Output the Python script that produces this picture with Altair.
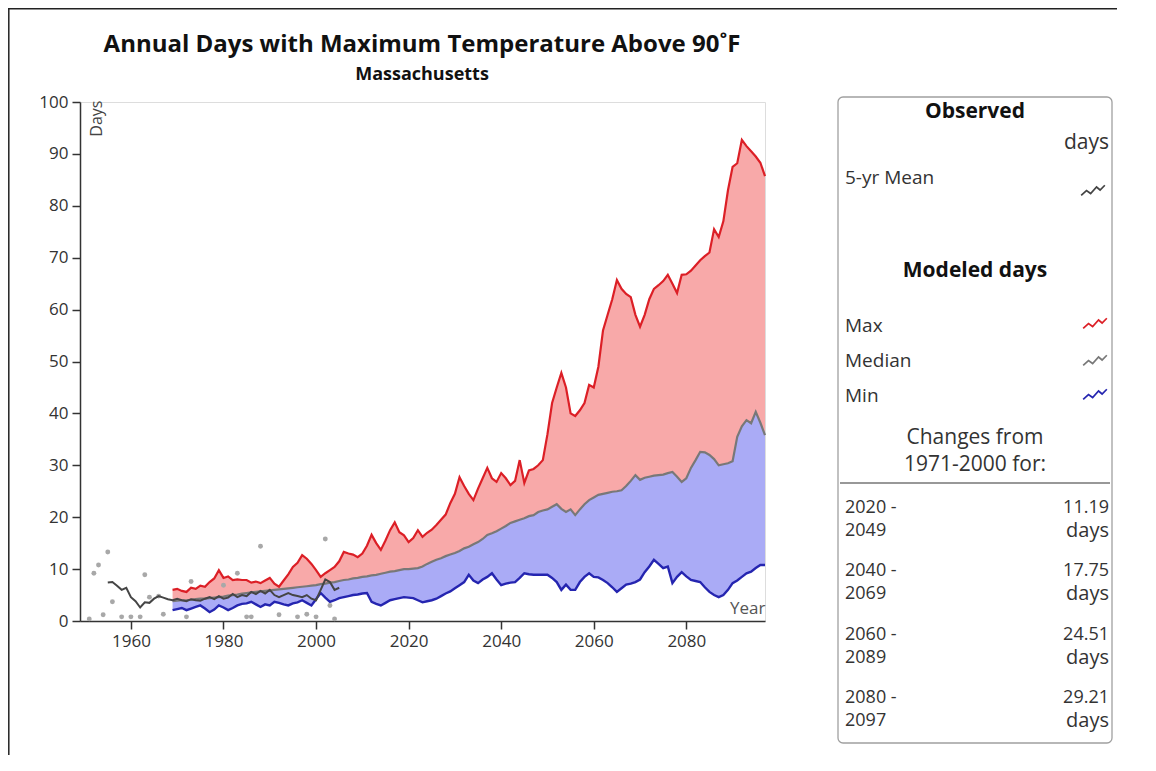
import altair as alt
import pandas as pd

FONT = "Open Sans"

# ---------------- data ----------------
model_years = list(range(1969, 2098))

max_days = [
    6.0, 6.2, 5.8, 5.6, 6.4, 6.2, 6.8, 6.6, 7.5, 8.2,
    9.8, 8.3, 8.6, 7.9, 8.0, 7.9, 7.9, 7.4, 7.6, 7.3,
    7.8, 8.3, 7.2, 6.6, 7.8, 9.0, 10.4, 11.2, 12.7, 12.0,
    11.0, 9.8, 8.5, 9.2, 9.8, 10.4, 11.5, 13.3, 13.0, 12.8,
    12.3, 13.0, 14.5, 16.6, 15.0, 13.7, 15.5, 17.5, 19.0, 17.1,
    16.5, 15.2, 16.0, 17.5, 16.2, 17.0, 17.6, 18.5, 19.5, 20.5,
    22.7, 24.5, 27.7, 26.0, 24.5, 23.3, 25.5, 27.5, 29.5, 27.5,
    26.8, 28.5, 27.5, 26.2, 27.0, 31.0, 26.6, 29.0, 29.3, 30.0,
    31.0, 36.0, 42.0, 45.0, 47.8, 45.0, 40.0, 39.5, 40.6, 42.0,
    45.5, 45.0, 49.0, 56.0, 59.0, 62.0, 65.7, 64.0, 63.0, 62.4,
    59.0, 56.7, 59.0, 62.0, 64.0, 64.7, 65.5, 66.7, 65.0, 63.2,
    66.7, 66.8, 67.5, 68.5, 69.5, 70.3, 71.0, 75.5, 74.0, 77.0,
    83.0, 87.5, 88.2, 92.7, 91.5, 90.5, 89.5, 88.3, 85.7,
]

median_days = [
    3.8, 3.9, 4.0, 4.0, 4.1, 4.2, 4.3, 4.3, 4.4, 4.5,
    4.6, 4.7, 4.9, 5.0, 5.1, 5.3, 5.4, 5.5, 5.6, 5.7,
    5.8, 5.9, 6.0, 6.1, 6.2, 6.3, 6.4, 6.5, 6.6, 6.7,
    6.8, 6.9, 7.1, 7.2, 7.4, 7.5, 7.7, 7.9, 8.0, 8.2,
    8.3, 8.5, 8.6, 8.8, 8.9, 9.1, 9.3, 9.5, 9.6, 9.8,
    10.0, 10.0, 10.1, 10.2, 10.5, 11.0, 11.4, 11.8, 12.1, 12.5,
    12.8, 13.1, 13.5, 14.0, 14.3, 14.8, 15.2, 15.8, 16.6, 16.9,
    17.3, 17.8, 18.3, 18.9, 19.2, 19.5, 19.8, 20.2, 20.4, 21.0,
    21.3, 21.5, 22.0, 22.5, 21.6, 21.0, 21.5, 20.4, 21.5, 22.5,
    23.3, 23.8, 24.3, 24.5, 24.7, 24.9, 25.0, 25.2, 26.0, 27.0,
    28.1, 27.2, 27.6, 27.8, 28.0, 28.1, 28.2, 28.5, 28.7, 27.8,
    26.8, 27.5, 29.5, 31.0, 32.6, 32.5, 32.0, 31.2, 30.0, 30.2,
    30.4, 30.8, 35.5, 37.5, 38.7, 38.1, 40.3, 38.2, 35.8,
]

min_days = [
    2.1, 2.3, 2.5, 2.1, 2.4, 2.7, 3.0, 2.4, 1.7, 2.2,
    3.0, 2.6, 2.1, 2.5, 3.0, 3.3, 3.4, 3.7, 3.2, 2.7,
    3.2, 3.0, 3.7, 3.5, 3.2, 3.0, 3.4, 3.6, 4.0, 3.5,
    3.0, 4.2, 5.4, 4.5, 3.7, 4.0, 4.4, 4.6, 4.8, 5.0,
    5.1, 5.3, 5.4, 3.7, 3.3, 3.0, 3.5, 4.0, 4.2, 4.4,
    4.6, 4.5, 4.4, 4.0, 3.6, 3.8, 4.0, 4.3, 4.8, 5.3,
    5.7, 6.3, 6.9, 7.5, 8.9, 7.8, 7.3, 8.0, 8.5, 9.2,
    8.0, 6.9, 7.2, 7.4, 7.5, 8.3, 9.2, 9.0, 8.9, 8.9,
    8.9, 8.9, 8.3, 7.5, 6.0, 7.0, 6.0, 6.0, 7.5, 8.5,
    9.2, 8.5, 8.4, 7.9, 7.3, 6.5, 5.6, 6.3, 7.0, 7.2,
    7.5, 8.0, 9.4, 10.5, 11.8, 11.0, 10.2, 10.5, 7.3, 8.5,
    9.4, 8.6, 7.9, 7.7, 7.5, 6.5, 5.6, 5.0, 4.6, 5.0,
    6.0, 7.3, 7.8, 8.5, 9.2, 9.5, 10.2, 10.8, 10.8,
]

obs_mean_years = list(range(1955, 2006))
obs_mean_days = [
    7.4, 7.5, 6.8, 6.0, 6.4, 4.6, 3.8, 2.6, 3.6, 3.5,
    4.3, 4.8, 4.5, 4.2, 4.0, 4.3, 4.0, 3.8, 4.2, 4.0,
    3.9, 4.3, 4.6, 4.2, 4.8, 4.3, 4.5, 5.2, 4.6, 5.0,
    4.8, 5.6, 5.2, 5.8, 5.3, 6.0, 5.0, 4.6, 5.0, 5.4,
    5.0, 4.8, 4.6, 5.0, 4.3, 4.0, 6.0, 8.0, 7.5, 6.0,
    6.4,
]

obs_years = [1951, 1952, 1953, 1954, 1955, 1956, 1958, 1960, 1962, 1963,
             1964, 1966, 1967, 1972, 1973, 1980, 1983, 1985, 1986, 1988,
             1992, 1996, 1998, 2000, 2002, 2003, 2004]
obs_days = [0.4, 9.2, 10.8, 1.2, 13.3, 3.7, 0.8, 0.8, 0.8, 8.9,
            4.6, 4.8, 1.3, 0.8, 7.6, 6.9, 9.2, 0.8, 0.8, 14.4,
            1.2, 0.8, 1.3, 0.8, 15.8, 3.0, 0.4]

x_ticks = [1960, 1980, 2000, 2020, 2040, 2060, 2080]
y_ticks = [0, 10, 20, 30, 40, 50, 60, 70, 80, 90, 100]

title_text = "Annual Days with Maximum Temperature Above 90˚F"
subtitle_text = "Massachusetts"

change_periods = [("2020 -", "2049"), ("2040 -", "2069"), ("2060 -", "2089"), ("2080 -", "2097")]
change_values = ["11.19", "17.75", "24.51", "29.21"]

# ---------------- frames ----------------
model = pd.DataFrame({"year": model_years, "max": max_days,
                      "median": median_days, "min": min_days})
obs_mean = pd.DataFrame({"year": obs_mean_years, "days": obs_mean_days})
obs = pd.DataFrame({"year": obs_years, "days": obs_days})
one = pd.DataFrame({"k": [0]})

W, H = 685, 519
AXC = "#333333"

x_scale = alt.Scale(domain=[1949, 2097], nice=False, zero=False)
y_scale = alt.Scale(domain=[0, 100], nice=False)

x_axis = alt.Axis(values=x_ticks, format="d", title="Year", grid=False,
                  titleX=W, titleY=-4, titleAlign="right", titleBaseline="bottom",
                  titleFontSize=17, titleFontWeight="normal", titleColor="#555",
                  labelFontSize=17, labelColor=AXC, labelPadding=4,
                  tickSize=8, tickColor=AXC, domainColor=AXC, domainWidth=1.5,
                  tickWidth=1.5, labelFont=FONT, titleFont=FONT)
y_axis = alt.Axis(values=y_ticks, title="Days", grid=False,
                  titleX=16, titleY=-2, titleAngle=270, titleAlign="right",
                  titleBaseline="middle", titleFontSize=16, titleFontWeight="normal",
                  titleColor="#444", labelFontSize=17, labelColor=AXC, labelPadding=4,
                  tickSize=8, tickColor=AXC, domainColor=AXC, domainWidth=1.5,
                  tickWidth=1.5, labelFont=FONT, titleFont=FONT)

base = alt.Chart(model)

upper_band = base.mark_area(color="#f8a9a9", opacity=1).encode(
    x=alt.X("year:Q", scale=x_scale, axis=x_axis),
    y=alt.Y("max:Q", scale=y_scale, axis=y_axis),
    y2="median:Q",
)
lower_band = base.mark_area(color="#aaabf6", opacity=1).encode(
    x="year:Q", y="median:Q", y2="min:Q"
)
max_line = base.mark_line(color="#dc1f26", strokeWidth=2.2).encode(x="year:Q", y="max:Q")
med_line = base.mark_line(color="#787878", strokeWidth=2.2).encode(x="year:Q", y="median:Q")
min_line = base.mark_line(color="#2525b0", strokeWidth=2.4).encode(x="year:Q", y="min:Q")

obs_pts = alt.Chart(obs).mark_circle(color="#a8a8a8", size=24, opacity=1).encode(
    x="year:Q", y="days:Q")
obs_line = alt.Chart(obs_mean).mark_line(color="#454545", strokeWidth=2).encode(
    x="year:Q", y="days:Q")

# ---------------- text helpers ----------------
def txt(s, x, y, size=20, weight="normal", align="left", color="#333"):
    return alt.Chart(one).mark_text(text=s, font=FONT, fontSize=size, fontWeight=weight,
                                    align=align, baseline="middle", color=color).encode(
        x=alt.value(x), y=alt.value(y))

def glyph(x, y, color):
    return alt.Chart(one).mark_point(
        shape="M-1,0.45 L-0.55,0.05 L-0.2,0.3 L0.3,-0.25 L0.6,0 L1,-0.4",
        filled=False, size=560, strokeWidth=1.7, color=color, opacity=1).encode(
        x=alt.value(x), y=alt.value(y))

# chart title (drawn as text so it stays put above the plot)
title_layers = [
    txt(title_text, 342, -57, size=24, weight="bold", align="center", color="#111"),
    txt(subtitle_text, 342, -27, size=18, weight="bold", align="center", color="#111"),
]

# outer frame edges (left and top) seen in the reference
frame_left = alt.Chart(one).mark_rule(color="#222", strokeWidth=1.5).encode(
    x=alt.value(-71.2), y=alt.value(-94), y2=alt.value(660))
frame_top = alt.Chart(one).mark_rule(color="#222", strokeWidth=1.5).encode(
    x=alt.value(-72), x2=alt.value(1050), y=alt.value(-93.2))

# ---------------- legend panel ----------------
panel = alt.Chart(one).mark_rect(fill="white", stroke="#a0a0a0", strokeWidth=1.3,
                                 cornerRadius=5).encode(
    x=alt.value(758), x2=alt.value(1032), y=alt.value(-5), y2=alt.value(641))
divider = alt.Chart(one).mark_rule(color="#333", strokeWidth=1.2).encode(
    x=alt.value(760), x2=alt.value(1030), y=alt.value(381))

legend_layers = [
    panel,
    txt("Observed", 895, 10, size=21, weight="bold", align="center", color="#111"),
    txt("days", 1029, 41, size=21, align="right"),
    txt("5-yr Mean", 765, 76, size=19),
    glyph(1013, 88, "#444"),
    txt("Modeled days", 895, 169, size=21, weight="bold", align="center", color="#111"),
    txt("Max", 765, 224, size=19), glyph(1015, 221, "#dc1f26"),
    txt("Median", 765, 259, size=19), glyph(1015, 258, "#787878"),
    txt("Min", 765, 294, size=19), glyph(1015, 292, "#2525b0"),
    txt("Changes from", 895, 336, size=21, align="center"),
    txt("1971-2000 for:", 895, 363, size=21, align="center"),
    divider,
]
row_y = [406, 469, 533, 596]
for (p1, p2), val, ry in zip(change_periods, change_values, row_y):
    legend_layers += [
        txt(p1, 765, ry, size=18),
        txt(p2, 765, ry + 23, size=18),
        txt(val, 1029, ry, size=18, align="right"),
        txt("days", 1029, ry + 23, size=20, align="right"),
    ]

chart = alt.layer(
    frame_left, frame_top,
    upper_band, lower_band, max_line, med_line, min_line, obs_pts, obs_line,
    *title_layers,
    *legend_layers,
).properties(
    width=W, height=H,
    autosize=alt.AutoSizeParams(type="none"),
    padding={"left": 72, "top": 94, "right": 352, "bottom": 134},
).configure_view(stroke=None).configure(background="white")

chart.save("out.html", embed_options={"renderer": "svg", "actions": False})
